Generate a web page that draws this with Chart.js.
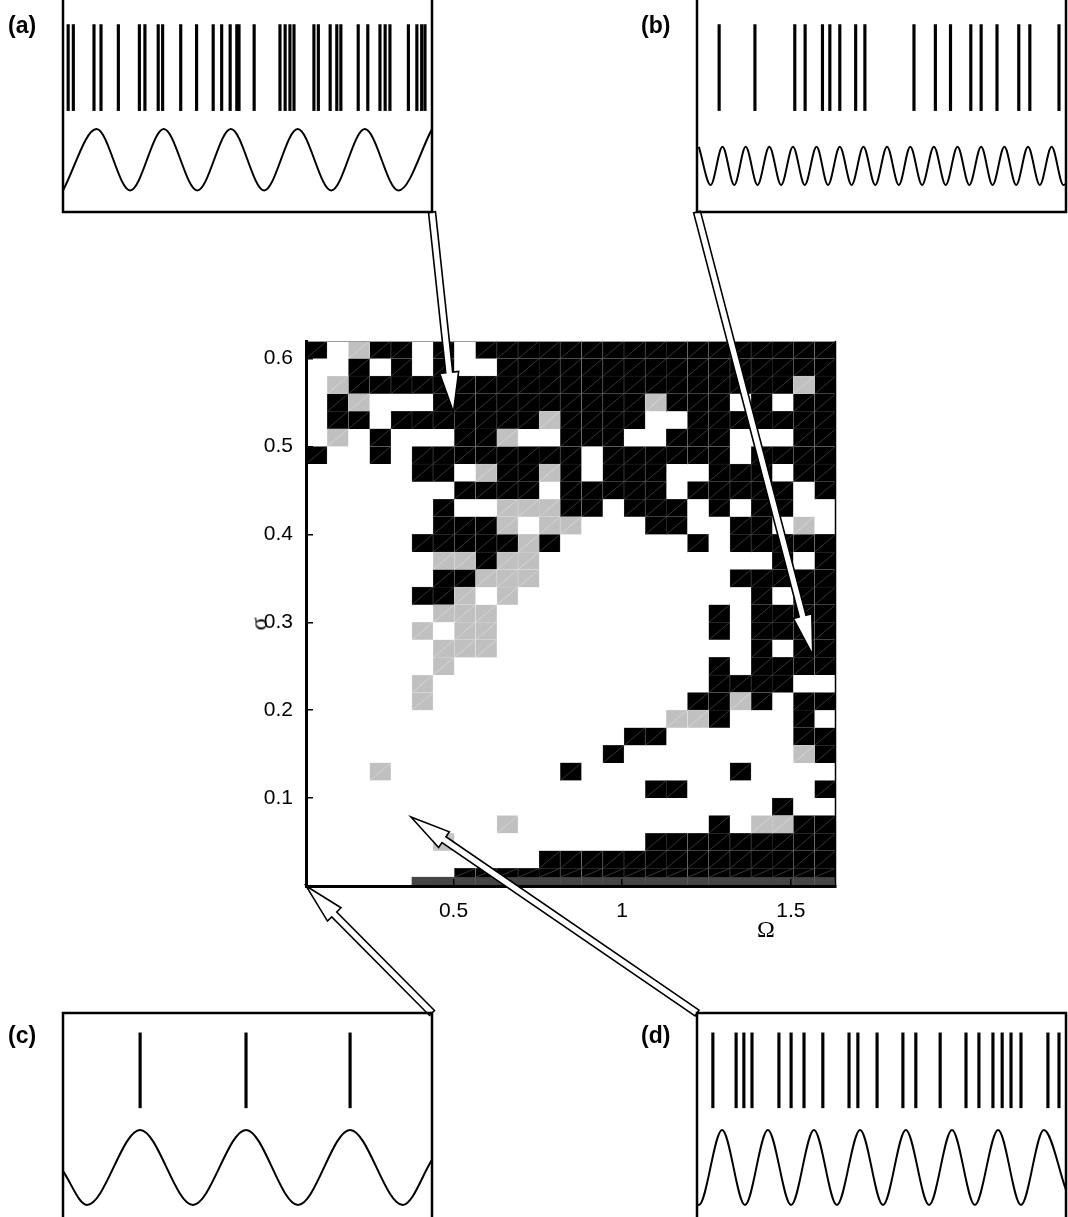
<!DOCTYPE html>
<html>
<head>
<meta charset="utf-8">
<script src="https://cdn.jsdelivr.net/npm/chart.js@4.4.1/dist/chart.umd.min.js"></script>
<style>
  html, body { margin: 0; padding: 0; background: #fff; }
  #page { position: relative; width: 1068px; height: 1217px; overflow: hidden; background: #fff;
          font-family: "Liberation Sans", Arial, sans-serif; }
  #page canvas { position: absolute; }
  .tag { position: absolute; font-weight: bold; font-size: 23px; line-height: 1; color: #000; }
  .sym { position: absolute; font-family: "Liberation Serif", "DejaVu Serif", serif; font-size: 24px; line-height: 1; color: #000; }
</style>
</head>
<body>
<div id="page">
  <canvas id="map" width="1068" height="1217" style="left:0;top:0"></canvas>
  <canvas id="insetA" width="375" height="216" style="left:60px;top:0"></canvas>
  <canvas id="insetB" width="375" height="216" style="left:694px;top:0"></canvas>
  <canvas id="insetC" width="375" height="212" style="left:60px;top:1009px"></canvas>
  <canvas id="insetD" width="375" height="212" style="left:694px;top:1009px"></canvas>
  <div class="tag" style="left:8px;top:14px">(a)</div>
  <div class="tag" style="left:641px;top:14px">(b)</div>
  <div class="tag" style="left:8px;top:1024px">(c)</div>
  <div class="tag" style="left:641px;top:1024px">(d)</div>
  <div class="sym" style="left:252px;top:612px;transform:rotate(-90deg);">σ</div>
  <div class="sym" style="left:757px;top:917px;">Ω</div>
</div>
<script>
// ---------- regime map over (Ω, σ) ----------
// centres of the Ω columns
const omegaCenters = [0.094, 0.157, 0.220, 0.283, 0.346, 0.408, 0.471, 0.534, 0.597, 0.660,
                      0.723, 0.785, 0.848, 0.911, 0.974, 1.037, 1.100, 1.162, 1.225, 1.288,
                      1.351, 1.414, 1.476, 1.539, 1.602];
const omegaMin = 0.0628, omegaMax = 1.634;
// σ row edges, top to bottom
const sigmaEdges = [0.62, 0.60, 0.58, 0.56, 0.54, 0.52, 0.50, 0.48, 0.46, 0.44, 0.42,
                    0.40, 0.38, 0.36, 0.34, 0.32, 0.30, 0.28, 0.26, 0.24, 0.22,
                    0.20, 0.18, 0.16, 0.14, 0.12, 0.10, 0.08, 0.06, 0.04, 0.02, 0.01, 0];
// one string per σ row (top first); '.' = none, 'g' = grey, '#' = black, 'd' = dark band
const cellRows = [
  "#.g##.#.#################",
  "..#.#.#..################",
  ".g#####################g#",
  ".#g...##########g###.#.##",
  ".##.#######g####..#######",
  ".g.#...##g..###..###...##",
  "#..#.########.######.####",
  ".....##.g##g#.###..###.##",
  ".......####.#####.#####.#",
  "......#..ggg##.###.#.##..",
  "......###g.gg...##..##.g.",
  ".....#####g#......#.#####",
  "......gg#gg...........#.#",
  "......##ggg.........#####",
  ".....##g.g...........#.##",
  "......ggg..........#.####",
  ".....g.gg..........#.####",
  "......ggg............#.##",
  "......g............#.####",
  ".....g.............####..",
  ".....g............##g#.##",
  ".................gg#...#.",
  "...............##......##",
  "..............#........g#",
  "...g........#.......#....",
  "................##......#",
  "......................#..",
  ".........g.........#.gg##",
  "......g.........#########",
  "...........##############",
  ".......##################",
  ".....dddddddddddddddddddd"
];
const omegaTicks = [0.5, 1, 1.5];
const omegaTickLabels = ["0.5", "1", "1.5"];
const sigmaTicks = [0.1, 0.2, 0.3, 0.4, 0.5, 0.6];
const sigmaTickLabels = ["0.1", "0.2", "0.3", "0.4", "0.5", "0.6"];

// arrow tips in (Ω, σ) and the inset corners the arrows leave from
const arrowOmega = [0.50, 1.565, 0.063, 0.374];
const arrowSigma = [0.539, 0.263, 0.0, 0.0785];
const arrowTails = [[432, 212], [697, 212], [432, 1013], [697, 1013]];

function cellsOf(code) {
  const out = [];
  cellRows.forEach((row, r) => {
    for (let c = 0; c < row.length; c++) {
      if (row[c] === code) out.push({ x: omegaCenters[c], y: [sigmaEdges[r + 1], sigmaEdges[r]] });
    }
  });
  return out;
}

const diagonalPlugin = {
  id: 'cellDiagonals',
  afterDatasetsDraw(chart) {
    const ctx = chart.ctx;
    chart.data.datasets.forEach((ds, i) => {
      if (!ds.diagColor) return;
      const meta = chart.getDatasetMeta(i);
      ctx.save();
      ctx.strokeStyle = ds.diagColor;
      ctx.lineWidth = 0.7;
      ctx.beginPath();
      meta.data.forEach(el => {
        const p = el.getProps(['x', 'y', 'base', 'width'], true);
        const l = p.x - p.width / 2, r = p.x + p.width / 2;
        const t = Math.min(p.y, p.base), b = Math.max(p.y, p.base);
        ctx.moveTo(l, b);
        ctx.lineTo(r, t);
      });
      ctx.stroke();
      ctx.restore();
    });
  }
};

const framePlugin = {
  id: 'mapFrame',
  afterDatasetsDraw(chart) {
    const { ctx, chartArea: a } = chart;
    ctx.save();
    ctx.strokeStyle = '#9a9a9a';
    ctx.lineWidth = 1;
    ctx.beginPath(); ctx.moveTo(a.left, a.top + 0.5); ctx.lineTo(a.right, a.top + 0.5); ctx.stroke();
    ctx.strokeStyle = '#000';
    ctx.lineWidth = 1.5;
    ctx.beginPath(); ctx.moveTo(a.right - 0.5, a.top); ctx.lineTo(a.right - 0.5, a.bottom); ctx.stroke();
    ctx.restore();
  }
};

function drawArrow(ctx, tx, ty, px, py) {
  const dx = px - tx, dy = py - ty, len = Math.hypot(dx, dy);
  const ux = dx / len, uy = dy / len, nx = -uy, ny = ux;
  const w = 3.5, h = 9.5, L = 40;
  const bx = px - ux * L, by = py - uy * L;
  ctx.beginPath();
  ctx.moveTo(tx + nx * w, ty + ny * w);
  ctx.lineTo(bx + nx * w, by + ny * w);
  ctx.lineTo(bx + nx * h, by + ny * h);
  ctx.lineTo(px, py);
  ctx.lineTo(bx - nx * h, by - ny * h);
  ctx.lineTo(bx - nx * w, by - ny * w);
  ctx.lineTo(tx - nx * w, ty - ny * w);
  ctx.closePath();
  ctx.fillStyle = '#fff';
  ctx.fill();
  ctx.strokeStyle = '#000';
  ctx.lineWidth = 1.6;
  ctx.lineJoin = 'miter';
  ctx.stroke();
}

const arrowPlugin = {
  id: 'pointerArrows',
  afterDraw(chart) {
    const { ctx, scales } = chart;
    ctx.save();
    arrowOmega.forEach((om, i) => {
      const px = scales.x.getPixelForValue(om);
      const py = scales.y.getPixelForValue(arrowSigma[i]);
      drawArrow(ctx, arrowTails[i][0], arrowTails[i][1], px, py);
    });
    ctx.restore();
  }
};

const tickFont = { family: "'Liberation Sans', Arial, sans-serif", size: 21 };

new Chart(document.getElementById('map'), {
  type: 'bar',
  data: {
    datasets: [
      { label: 'grey', data: cellsOf('g'), backgroundColor: '#c0c0c0', borderColor: '#d8d8d8',
        borderWidth: 0.5, diagColor: '#dcdcdc' },
      { label: 'black', data: cellsOf('#'), backgroundColor: '#000000', borderColor: '#4a4a4a',
        borderWidth: 0.5, diagColor: '#4a4a4a' },
      { label: 'band', data: cellsOf('d'), backgroundColor: '#454545', borderWidth: 0 }
    ]
  },
  options: {
    responsive: false,
    animation: false,
    devicePixelRatio: 1,
    datasets: { bar: { grouped: false, barPercentage: 1, categoryPercentage: 1 } },
    layout: { padding: { top: 341, right: 232, left: 0, bottom: 0 } },
    plugins: { legend: { display: false }, tooltip: { enabled: false } },
    scales: {
      x: {
        type: 'linear', min: omegaMin, max: omegaMax, offset: false,
        afterBuildTicks: s => { s.ticks = omegaTicks.map(v => ({ value: v })); },
        afterFit: s => { s.height = 1217 - 886; },
        ticks: { callback: (v, i) => omegaTickLabels[i], font: tickFont, color: '#000',
                 padding: 20, maxRotation: 0, autoSkip: false },
        grid: { display: true, drawOnChartArea: false, drawTicks: true, tickLength: -7,
                color: '#000', lineWidth: 1.5, offset: false, z: 1 },
        border: { display: true, color: '#000', width: 3, z: 1 }
      },
      y: {
        type: 'linear', min: 0, max: 0.62,
        afterBuildTicks: s => { s.ticks = sigmaTicks.map(v => ({ value: v })); },
        afterFit: s => { s.width = 306; },
        ticks: { callback: (v, i) => sigmaTickLabels[i], font: tickFont, color: '#000', padding: 20 },
        grid: { display: true, drawOnChartArea: false, drawTicks: true, tickLength: -7,
                color: '#000', lineWidth: 1.5, z: 1 },
        border: { display: true, color: '#000', width: 3, z: 1 }
      }
    }
  },
  plugins: [diagonalPlugin, framePlugin, arrowPlugin]
});

// ---------- the four example traces: spike rasters above the forcing ----------
const spikesA = [1.4, 2.8, 8.4, 10.3, 15.0, 20.7, 22.2, 25.8, 27.0, 31.9, 36.2, 40.7, 43.0, 45.3,
                 47.1, 47.7, 51.8, 58.8, 60.2, 61.5, 62.6, 68.0, 69.2, 72.4, 74.2, 75.3, 80.0,
                 82.6, 85.9, 87.3, 88.6, 93.6, 95.9, 97.2, 98.1];
const forcingA_t = [0, 9.1, 18.2, 27.3, 36.4, 45.5, 54.5, 63.6, 72.7, 81.8, 90.9, 100];
const forcingA_v = [-1, 1, -1, 1, -1, 1, -1, 1, -1, 1, -1, 1];

const spikesB = [6.0, 15.7, 26.5, 29.3, 34.0, 36.0, 38.7, 43.0, 45.5, 58.8, 64.6, 68.7, 74.2,
                 77.0, 81.3, 87.2, 90.2, 98.1];
const forcingB_t = [0.5, 3.7, 6.9, 10.1, 13.2, 16.4, 19.6, 22.8, 26.0, 29.2, 32.4, 35.5, 38.7,
                    41.9, 45.1, 48.3, 51.5, 54.7, 57.8, 61.0, 64.2, 67.4, 70.6, 73.8, 77.0, 80.1,
                    83.3, 86.5, 89.7, 92.9, 96.1, 99.3, 100];
const forcingB_v = [0.42, -0.82, 0.42, -0.82, 0.42, -0.82, 0.42, -0.82, 0.42, -0.82, 0.42, -0.82,
                    0.42, -0.82, 0.42, -0.82, 0.42, -0.82, 0.42, -0.82, 0.42, -0.82, 0.42, -0.82,
                    0.42, -0.82, 0.42, -0.82, 0.42, -0.82, 0.42, -0.82, -0.78];

const spikesC = [20.9, 49.6, 77.8];
const forcingC_t = [0, 6.5, 20.9, 35.2, 49.6, 63.7, 77.8, 92.1, 100];
const forcingC_v = [-0.1, -1, 1, -1, 1, -1, 1, -1, 0.2];

const spikesD = [4.3, 10.6, 12.7, 14.9, 22.2, 25.5, 29.0, 34.1, 41.2, 43.6, 48.8, 55.8, 59.3,
                 65.9, 72.9, 76.4, 80.2, 82.7, 85.1, 87.8, 95.1, 98.1];
const forcingD_t = [0, 0.5, 6.8, 13.0, 19.2, 25.5, 31.7, 37.9, 44.2, 50.4, 56.6, 62.9, 69.1, 75.3,
                    81.6, 87.8, 94.0, 100];
const forcingD_v = [-0.97, -1, 1, -1, 1, -1, 1, -1, 1, -1, 1, -1, 1, -1, 1, -1, 1, -0.6];

function boxPlugin(openTop) {
  return {
    id: 'insetBox',
    afterDraw(chart) {
      const { ctx, chartArea: a } = chart;
      ctx.save();
      ctx.strokeStyle = '#000';
      ctx.lineWidth = 2.5;
      ctx.beginPath();
      if (openTop) {
        ctx.moveTo(a.left, a.top); ctx.lineTo(a.left, a.bottom);
        ctx.lineTo(a.right, a.bottom); ctx.lineTo(a.right, a.top);
      } else {
        ctx.moveTo(a.left, a.bottom); ctx.lineTo(a.left, a.top);
        ctx.lineTo(a.right, a.top); ctx.lineTo(a.right, a.bottom);
      }
      ctx.stroke();
      ctx.restore();
    }
  };
}

function makeInset(id, spikes, ft, fv, yMin, yMax, spikeLo, spikeHi, openTop) {
  new Chart(document.getElementById(id), {
    type: 'bar',
    data: {
      datasets: [
        { type: 'bar', data: spikes.map(t => ({ x: t, y: [spikeLo, spikeHi] })),
          backgroundColor: '#000', borderWidth: 0, barThickness: 2.5 },
        { type: 'line', data: ft.map((t, i) => ({ x: t, y: fv[i] })), borderColor: '#000',
          borderWidth: 2, pointRadius: 0, cubicInterpolationMode: 'monotone', fill: false }
      ]
    },
    options: {
      responsive: false, animation: false, devicePixelRatio: 1,
      layout: { padding: openTop ? { left: 3, right: 3, top: 0, bottom: 4 }
                                 : { left: 3, right: 3, top: 4, bottom: 0 } },
      plugins: { legend: { display: false }, tooltip: { enabled: false } },
      scales: {
        x: { type: 'linear', min: 0, max: 100, offset: false, display: false },
        y: { type: 'linear', min: yMin, max: yMax, display: false }
      }
    },
    plugins: [boxPlugin(openTop)]
  });
}

makeInset('insetA', spikesA, forcingA_t, forcingA_v, -1.7, 5.2, 1.6, 4.4, true);
makeInset('insetB', spikesB, forcingB_t, forcingB_v, -1.7, 5.2, 1.6, 4.4, true);
makeInset('insetC', spikesC, forcingC_t, forcingC_v, -1.43, 4.12, 1.59, 3.59, false);
makeInset('insetD', spikesD, forcingD_t, forcingD_v, -1.43, 4.12, 1.59, 3.59, false);
</script>
</body>
</html>
